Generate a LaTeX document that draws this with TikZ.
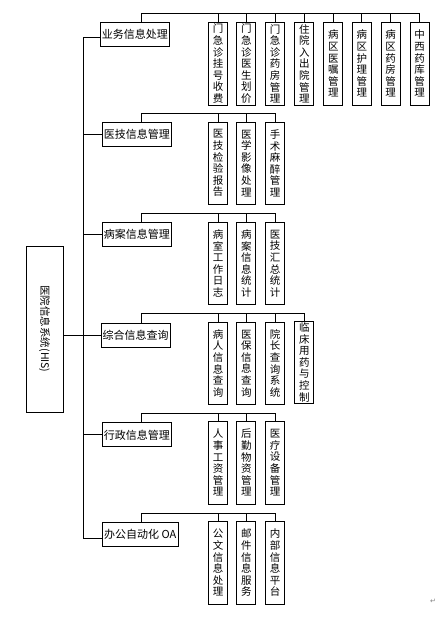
\documentclass[tikz,border=0pt]{standalone}
\usepackage{fontspec}
\setmainfont{Noto Sans CJK SC}
\newfontfamily\symfont{DejaVu Sans}
\usetikzlibrary{calc}

\begin{document}
\begin{tikzpicture}[
    x=1pt, y=-1pt,
    every node/.style={font=\fontsize{10.5}{11.6}\selectfont},
    rootbox/.style ={rectangle,draw,line width=0.8pt,
                    minimum width=37pt,minimum height=166pt,inner sep=0pt},
    groupbox/.style={rectangle,draw,line width=0.8pt,
                    font=\fontsize{11}{12}\selectfont,
                    minimum width=69pt,minimum height=24pt,inner sep=1pt},
    leafbox/.style ={rectangle,draw,line width=0.8pt,align=center,
                    minimum width=19pt,minimum height=83pt,inner sep=0pt},
    link/.style    ={-,line width=0.8pt},
  ]
  \useasboundingbox (0,0) rectangle (440,621);

  % --- root and first level ---
  \node[rootbox] (his) at (44.5,329) {\rotatebox{-90}{医院信息系统(HIS)}};

  \node[groupbox] (yw) at (134.8,34.3) {业务信息处理};
  \node[groupbox] (yj) at (136.8,134.2) {医技信息管理};
  \node[groupbox] (ba) at (136.8,234.5) {病案信息管理};
  \node[groupbox] (zh) at (135.7,335.3) {综合信息查询};
  \node[groupbox] (xz) at (136.8,434.8) {行政信息管理};
  \node[groupbox,minimum width=76pt] (bg) at (140.3,534.8) {办公自动化 OA};

  % trunk
  \coordinate (trunk) at (83.3,0);
  \draw[link] ([yshift=-3.4pt]yw.west) -| ([yshift=-3.5pt]bg.west -| trunk)
              -- ([yshift=-3.5pt]bg.west);
  \foreach \n in {yj,ba,zh,xz}
    \draw[link] (\n.west -| trunk) -- (\n.west);
  \draw[link] (his.east |- zh.west) -- (trunk |- zh.west);

  % --- second level ---
  \foreach \i/\x/\t in {1/218/{门\\急\\诊\\挂\\号\\收\\费},
                        2/246.3/{门\\急\\诊\\医\\生\\划\\价},
                        3/275.2/{门\\急\\诊\\药\\房\\管\\理},
                        4/304.3/{住\\院\\入\\出\\院\\管\\理},
                        5/333.3/{病\\区\\医\\嘱\\管\\理},
                        6/361.8/{病\\区\\护\\理\\管\\理},
                        7/390.7/{病\\区\\药\\房\\管\\理},
                        8/419.7/{中\\西\\药\\库\\管\\理}}
    \node[leafbox] (yw\i) at (\x,63.8) {\t};

  \foreach \i/\x/\t in {1/218/{医\\技\\检\\验\\报\\告},
                        2/246.3/{医\\学\\影\\像\\处\\理},
                        3/275.2/{手\\术\\麻\\醉\\管\\理}}
    \node[leafbox,minimum height=82pt] (yj\i) at (\x,163.3) {\t};

  \foreach \i/\x/\t in {1/218/{病\\室\\工\\作\\日\\志},
                        2/246.3/{病\\案\\信\\息\\统\\计},
                        3/275.2/{医\\技\\汇\\总\\统\\计}}
    \node[leafbox,minimum height=81.6pt] (ba\i) at (\x,263.5) {\t};

  \foreach \i/\x/\y/\t in {1/218/363.3/{病\\人\\信\\息\\查\\询},
                           2/246.3/363.3/{医\\保\\信\\息\\查\\询},
                           3/275.2/363.3/{院\\长\\查\\询\\系\\统},
                           4/304.3/362.3/{临\\床\\用\\药\\与\\控\\制}}
    \node[leafbox,minimum height=82pt] (zh\i) at (\x,\y) {\t};

  \foreach \i/\x/\t in {1/218/{人\\事\\工\\资\\管\\理},
                        2/246.3/{后\\勤\\物\\资\\管\\理},
                        3/275.2/{医\\疗\\设\\备\\管\\理}}
    \node[leafbox] (xz\i) at (\x,462.8) {\t};

  \foreach \i/\x/\t in {1/218/{公\\文\\信\\息\\处\\理},
                        2/246.3/{邮\\件\\信\\息\\服\\务},
                        3/275.2/{内\\部\\信\\息\\平\\台}}
    \node[leafbox] (bg\i) at (\x,562.8) {\t};

  % --- buses over each group ---
  \foreach \g/\y/\last/\n in {yw/13.3/8/{1,...,8}, yj/113.3/3/{1,2,3},
                              ba/213.3/3/{1,2,3}, zh/313.3/4/{1,...,4},
                              xz/413.3/3/{1,2,3}, bg/513.3/3/{1,2,3}} {
    \coordinate (\g bus) at (141.7,\y);
    \draw[link] (\g.north -| \g bus) -- (\g bus) -| (\g\last.north);
    \foreach \i in \n
      \draw[link] (\g\i.north) -- (\g\i.north |- \g bus);
  }

  % paragraph mark
  \node[text=gray,font=\symfont\fontsize{7}{8}\selectfont] (pmark) at (433,601) {↵};
\end{tikzpicture}
\end{document}
